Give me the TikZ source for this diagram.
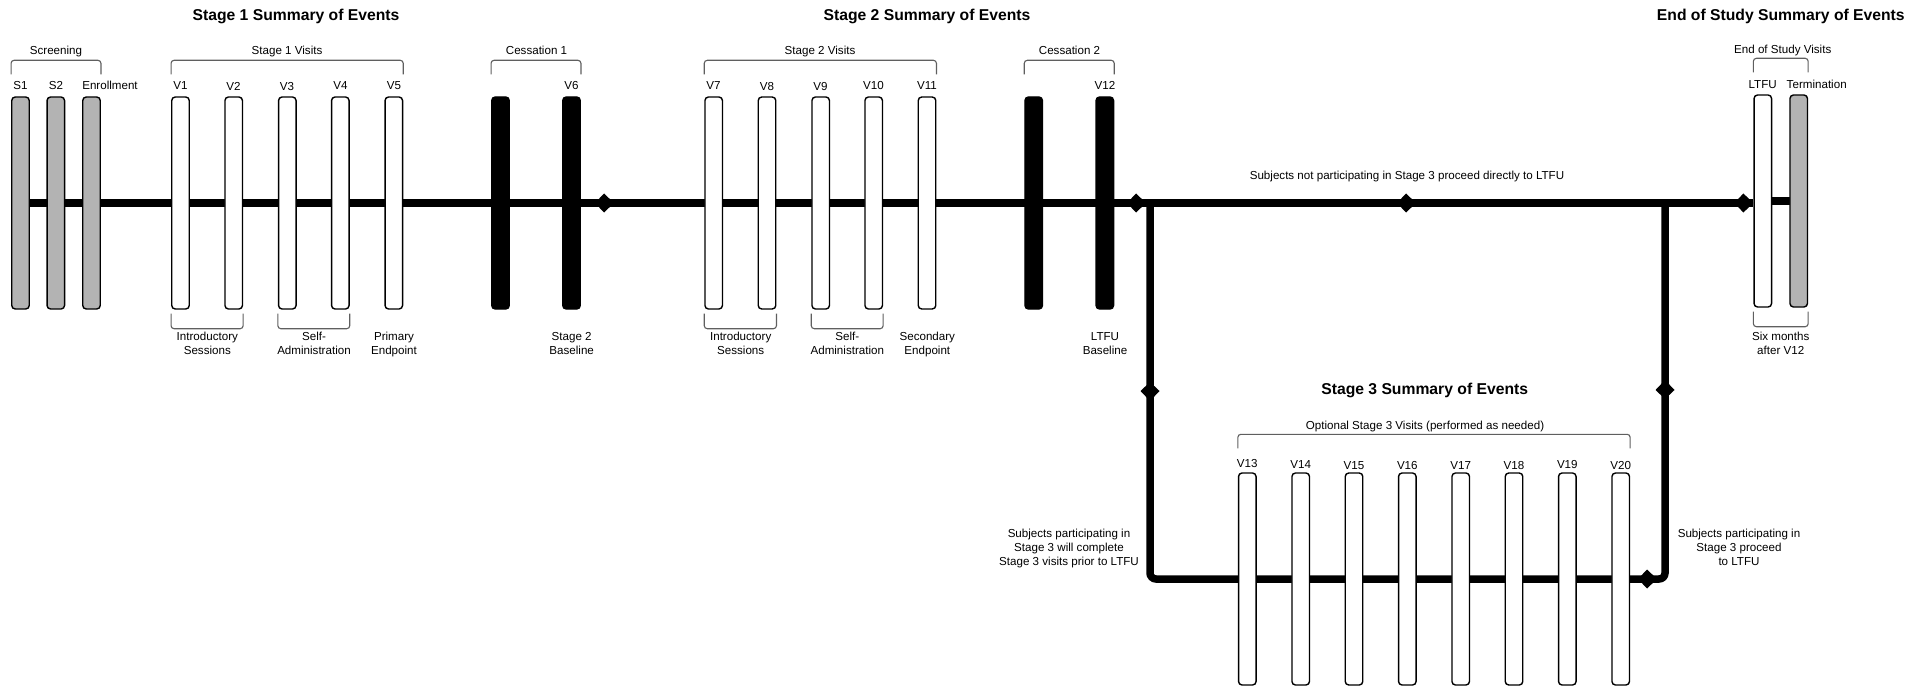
\documentclass[tikz,border=0pt]{standalone}
\usepackage{fontspec}
\setmainfont{Liberation Sans}
\usetikzlibrary{calc,backgrounds}
\definecolor{bargray}{RGB}{179,179,179}
\definecolor{brkgray}{RGB}{95,95,95}
\newcommand{\mytopbrace}[4]{\draw[brk] ($(#1.north west)+(0,-#3)$) |- ($(#2.north east)+(0,-#4)$) -- ($(#2.north east)+(0,-#3)$);}
\newcommand{\mybotbrace}[2]{\draw[brk] ($(#1.south west)+(0,4)$) |- ($(#2.south east)+(0,19)$) -- ($(#2.south east)+(0,4)$);}
\begin{document}
\begin{tikzpicture}[x=1pt,y=-1pt,
  visitbar/.style={draw=black, line width=1.4pt, rounded corners=3.5pt, minimum width=17.5pt, minimum height=212pt, inner sep=0pt, fill=white},
  graybar/.style={visitbar, fill=bargray},
  blackbar/.style={visitbar, fill=black},
  lbl/.style={font=\fontsize{11.6}{14}\selectfont, inner sep=0pt, anchor=base, align=center},
  ttl/.style={font=\fontsize{15.7}{18}\selectfont\bfseries, inner sep=0pt, anchor=base},
  brk/.style={draw=brkgray, line width=1.1pt, rounded corners=3pt},
  mainline/.style={line width=7.5pt, draw=black},
  kitemark/.pic={\fill[black] (0,0) -- (-10,9.5) -- (-19,0) -- (-10,-9.5) -- cycle;},
]
\useasboundingbox (0,0) rectangle (1929,687);

% titles
\node[ttl] (t1) at (296,21) {Stage 1 Summary of Events};
\node[ttl] (t2) at (927,21) {Stage 2 Summary of Events};
\node[ttl] (t4) at (1780.8,21) {End of Study Summary of Events};
\node[ttl] (t3) at (1424.7,394) {Stage 3 Summary of Events};

% top row bars
\node[graybar] (S1) at (20.5,203) {};
\node[graybar] (S2) at (55.8,203) {};
\node[graybar] (Enr) at (91.5,203) {};
\node[visitbar] (V1) at (180.5,203) {};
\node[visitbar] (V2) at (233.7,203) {};
\node[visitbar] (V3) at (287.3,203) {};
\node[visitbar] (V4) at (340.3,203) {};
\node[visitbar] (V5) at (393.8,203) {};
\node[blackbar] (C1) at (500.5,203) {};
\node[blackbar] (V6) at (571.5,203) {};
\node[visitbar] (V7) at (713.7,203) {};
\node[visitbar] (V8) at (767,203) {};
\node[visitbar] (V9) at (820.7,203) {};
\node[visitbar] (V10) at (873.7,203) {};
\node[visitbar] (V11) at (927,203) {};
\node[blackbar] (C2) at (1033.7,203) {};
\node[blackbar] (V12) at (1104.8,203) {};
\node[visitbar] (LTFU) at (1762.8,201) {};
\node[graybar] (Term) at (1798.7,201) {};

% stage 3 bars
\node[visitbar] (V13) at (1247.3,579) {};
\node[visitbar] (V14) at (1300.7,579) {};
\node[visitbar] (V15) at (1354,579) {};
\node[visitbar] (V16) at (1407.3,579) {};
\node[visitbar] (V17) at (1460.7,579) {};
\node[visitbar] (V18) at (1514,579) {};
\node[visitbar] (V19) at (1567.3,579) {};
\node[visitbar] (V20) at (1620.7,579) {};

% bar labels
\node[lbl] (lS1) at (20.5,90) {S1};
\node[lbl] (lS2) at (56,90) {S2};
\node[lbl] (lEnr) at (110,90) {Enrollment};
\node[lbl] (lV1) at (180.5,90) {V1};
\node[lbl] (lV2) at (233.5,90.5) {V2};
\node[lbl] (lV3) at (287,90.5) {V3};
\node[lbl] (lV4) at (340.5,90) {V4};
\node[lbl] (lV5) at (394,90) {V5};
\node[lbl] (lV6) at (571.5,90) {V6};
\node[lbl] (lV7) at (713.5,90) {V7};
\node[lbl] (lV8) at (767,90.5) {V8};
\node[lbl] (lV9) at (820.5,90.5) {V9};
\node[lbl] (lV10) at (873.5,90) {V10};
\node[lbl] (lV11) at (927,90) {V11};
\node[lbl] (lV12) at (1105,90) {V12};
\node[lbl] (lLTFU) at (1762.7,88.5) {LTFU};
\node[lbl] (lTerm) at (1816.7,88.5) {Termination};
\node[lbl] (lV13) at (1247.3,467) {V13};
\node[lbl] (lV14) at (1300.7,468) {V14};
\node[lbl] (lV15) at (1354,469) {V15};
\node[lbl] (lV16) at (1407.3,469.5) {V16};
\node[lbl] (lV17) at (1460.7,469.5) {V17};
\node[lbl] (lV18) at (1514,469.5) {V18};
\node[lbl] (lV19) at (1567.3,468.5) {V19};
\node[lbl] (lV20) at (1620.7,469.5) {V20};

% top braces
\mytopbrace{S1}{Enr}{22}{36}
\mytopbrace{V1}{V5}{22}{36}
\mytopbrace{C1}{V6}{22}{36}
\mytopbrace{V7}{V11}{22}{36}
\mytopbrace{C2}{V12}{22}{36}
\mytopbrace{LTFU}{Term}{22}{36}
\mytopbrace{V13}{V20}{24}{38}
\node[lbl] (bScr) at (56,55) {Screening};
\node[lbl] (bS1) at (287,55) {Stage 1 Visits};
\node[lbl] (bC1) at (536.5,55) {Cessation 1};
\node[lbl] (bS2) at (820,55) {Stage 2 Visits};
\node[lbl] (bC2) at (1069.5,55) {Cessation 2};
\node[lbl] (bEnd) at (1782.7,54) {End of Study Visits};
\node[lbl] (bS3) at (1425,429) {Optional Stage 3 Visits (performed as needed)};

% bottom braces
\mybotbrace{V1}{V2}
\mybotbrace{V3}{V4}
\mybotbrace{V7}{V8}
\mybotbrace{V9}{V10}
\mybotbrace{LTFU}{Term}
\node[lbl] (d1) at (207.3,354) {Introductory\\Sessions};
\node[lbl] (d2) at (314,354) {Self-\\Administration};
\node[lbl] (d3) at (394,354) {Primary\\Endpoint};
\node[lbl] (d4) at (571.7,354) {Stage 2\\Baseline};
\node[lbl] (d5) at (740.7,354) {Introductory\\Sessions};
\node[lbl] (d6) at (847.3,354) {Self-\\Administration};
\node[lbl] (d7) at (927.3,354) {Secondary\\Endpoint};
\node[lbl] (d8) at (1105,354) {LTFU\\Baseline};
\node[lbl] (d9) at (1780.7,354) {Six months\\after V12};

% path texts
\node[lbl] (pNot) at (1407,179) {Subjects not participating in Stage 3 proceed directly to LTFU};
\node[lbl] (pIn) at (1069,565) {Subjects participating in\\Stage 3 will complete\\Stage 3 visits prior to LTFU};
\node[lbl] (pOut) at (1739,565) {Subjects participating in\\Stage 3 proceed\\to LTFU};

% connector points
\coordinate (j1) at (1150,203);
\coordinate (c2) at (1665,579);
\coordinate (j2) at (1665,203);

\begin{scope}[on background layer]
\draw[mainline] (S1.center) -- (j1);
\draw[mainline] (j1) -- (LTFU.west |- j1);
\draw[mainline] (LTFU.center) -- (Term.center);
\draw[mainline, rounded corners=6pt] (j1) |- (c2) -- (j2);
\end{scope}

% direction marks on the connectors
\pic at (614,203) {kitemark};
\pic at (1146,203) {kitemark};
\pic at (1416,203) {kitemark};
\pic at (LTFU.west |- j1) {kitemark};
\pic[rotate=-90] at (1150,401) {kitemark};
\pic at (1657,579) {kitemark};
\pic[rotate=90] at (1665,380) {kitemark};
\end{tikzpicture}
\end{document}
